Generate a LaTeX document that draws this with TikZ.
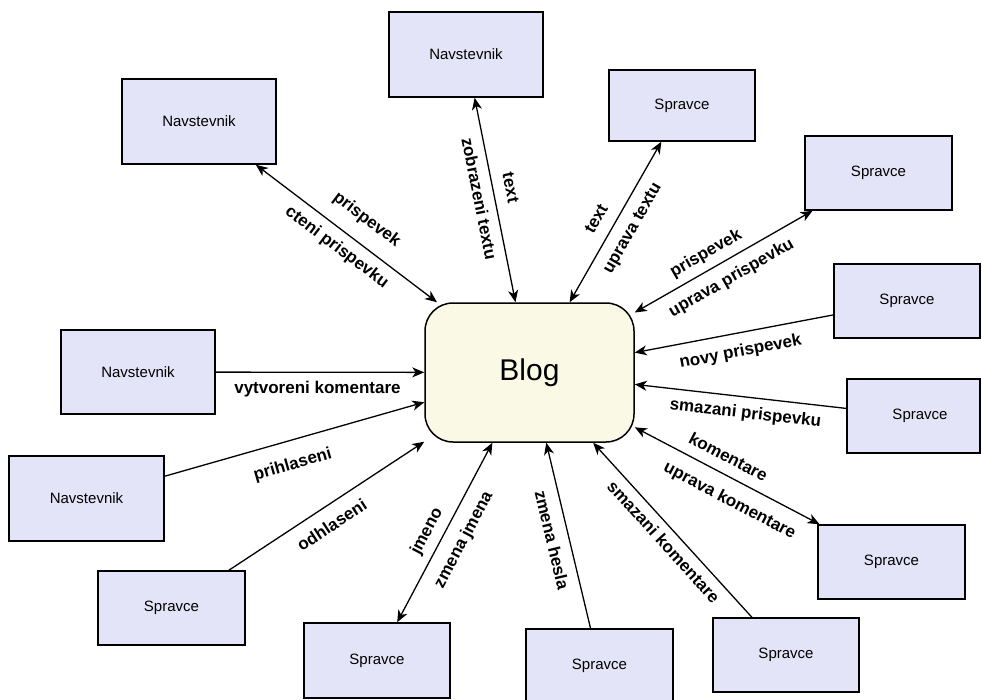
\documentclass[tikz,border=0pt]{standalone}
\usepackage{fontspec}
\setmainfont{Liberation Sans}
\usetikzlibrary{arrows.meta}
\definecolor{boxfill}{HTML}{E4E4F8}
\definecolor{blogfill}{HTML}{FAF9E5}
\tikzset{
  actor/.style={draw=black, line width=1.5pt, fill=boxfill, inner sep=0pt,
    minimum width=#1, font=\fontsize{15}{18}\selectfont},
  actor/.default=147pt,
  blogbox/.style={draw=black, line width=1.5pt, fill=blogfill, rounded corners=28pt,
    minimum width=209pt, minimum height=139pt, inner sep=0pt, font=\fontsize{30}{36}\selectfont},
  conn/.style={line width=1.3pt, draw=black},
  lab/.style={sloped, inner xsep=0pt, inner ysep=#1, text height=12.4pt, text depth=3.6pt,
    font=\fontsize{17}{20}\selectfont\bfseries},
  >={Stealth[length=12pt,width=10pt,inset=3.5pt]}
}
\begin{document}
\begin{tikzpicture}[x=1pt,y=-1pt]
\useasboundingbox (0,0) rectangle (982,699);
% central node
\node[blogbox] (blog) at (529.5,372.5) {Blog};
% actors
\node[actor=154pt, minimum height=85pt] (b1) at (199,121.5) {Navstevnik};
\node[actor=154pt, minimum height=85pt] (b2) at (466,54.5) {Navstevnik};
\node[actor=146pt, minimum height=71pt] (b3) at (682,105.5) {Spravce};
\node[actor=147pt, minimum height=74pt] (b4) at (878.5,173) {Spravce};
\node[actor=146pt, minimum height=74pt] (b5) at (907,301) {Spravce};
\node[actor=133pt, minimum height=74pt] (b6) at (913.5,416) {\hspace*{13pt}Spravce};
\node[actor=147pt, minimum height=74pt] (b7) at (891.5,562) {Spravce};
\node[actor=146pt, minimum height=74pt] (b8) at (786,655) {Spravce};
\node[actor=147pt, minimum height=74pt] (b9) at (599.5,666) {Spravce};
\node[actor=146pt, minimum height=75pt] (b10) at (377,660.5) {Spravce};
\node[actor=147pt, minimum height=74pt] (b11) at (171.5,608) {Spravce};
\node[actor=155pt, minimum height=85pt] (b12) at (86.5,498.5) {Navstevnik};
\node[actor=154pt, minimum height=84pt] (b13) at (138,372) {Navstevnik};
% connectors
\draw[conn,<->] (b1) -- node[lab=14.5pt, pos=0.534, above] {prispevek}
                       node[lab=8.4pt, pos=0.503, below] {cteni prispevku} (blog);
\draw[conn,<->] (b2) -- node[lab=8pt, pos=0.457, above] {text}
                       node[lab=8.1pt, pos=0.48, below] {zobrazeni textu} (blog);
\draw[conn,<->] (blog) -- node[lab=8.5pt, pos=0.462, above] {text}
                         node[lab=9.3pt, pos=0.516, below] {uprava textu} (b3);
\draw[conn,<->] (blog) -- node[lab=7pt, pos=0.445, above] {prispevek}
                         node[lab=9.7pt, pos=0.493, below] {uprava prispevku} (b4);
\draw[conn,<-] (blog) -- node[lab=10.6pt, pos=0.515, below] {novy prispevek} (b5);
\draw[conn,<-] (blog) -- node[lab=8.3pt, pos=0.532, below] {smazani prispevku} (b6);
\draw[conn,<->] (blog) -- node[lab=7.2pt, pos=0.463, above] {komentare}
                         node[lab=12.7pt, pos=0.566, below] {uprava komentare} (b7);
\draw[conn,<-] (blog) -- node[lab=7.4pt, pos=0.512, below] {smazani komentare} (b8);
\draw[conn,<-] (blog) -- node[lab=9.8pt, pos=0.502, below] {zmena hesla} (b9);
\draw[conn,<->] (b10) -- node[lab=7.4pt, pos=0.463, above] {jmeno}
                         node[lab=11.7pt, pos=0.512, below] {zmena jmena} (blog);
\draw[conn,->] (b11) -- node[lab=11.7pt, pos=0.474, below] {odhlaseni} (blog);
\draw[conn,->] (b12) -- node[lab=15.7pt, pos=0.468, below] {prihlaseni} (blog);
\draw[conn,->] (b13) -- node[lab=8.45pt, pos=0.488, below] {vytvoreni komentare} (blog);
\end{tikzpicture}
\end{document}
